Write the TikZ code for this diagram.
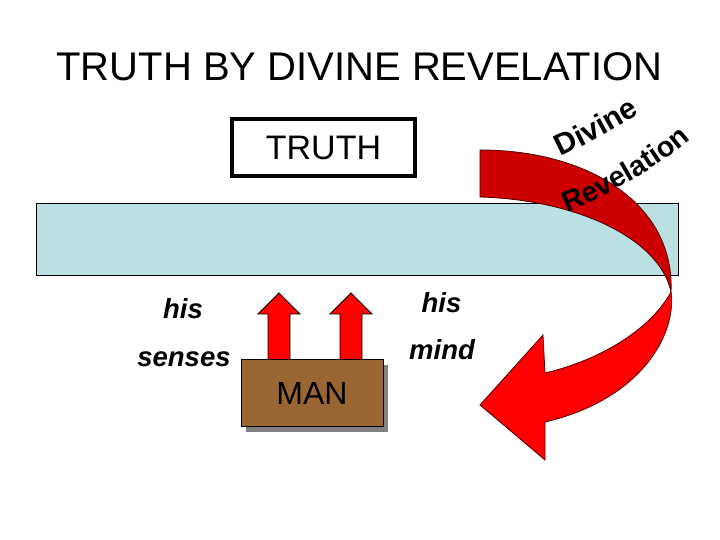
\documentclass[tikz,border=0pt]{standalone}
\usepackage{fontspec}
\setmainfont{Liberation Sans}
\usetikzlibrary{decorations.text,shadows}
\definecolor{bandblue}{RGB}{187,224,227}
\definecolor{manbrown}{RGB}{153,102,51}
\definecolor{ribbondark}{RGB}{204,0,0}
\definecolor{ribbonbright}{RGB}{255,0,0}
\tikzset{
  upperarrow/.style={fill=ribbonbright, draw=black, line width=0.8pt, line join=miter},
  ribbonedge/.style={draw=black!70!red, line width=0.8pt},
  sidelabel/.style={font=\fontsize{27.5}{33}\selectfont\bfseries\itshape, anchor=base, inner sep=0},
  curvetext/.style={decorate, decoration={text along path, text align=center, text={#1}}}
}
\begin{document}
\begin{tikzpicture}[x=1pt,y=1pt]
\useasboundingbox (0,0) rectangle (720,540);
% title
\node[anchor=base, font=\fontsize{40}{48}\selectfont, inner sep=0] (title) at (359.5,459) {TRUTH BY DIVINE REVELATION};
% truth box
\node[draw, line width=4pt, minimum width=183pt, minimum height=57pt, inner sep=0,
      font=\fontsize{34}{40}\selectfont] (truth) at (323.5,392.5) {TRUTH};
% band
\node[draw, fill=bandblue, line width=1pt, minimum width=642pt, minimum height=72pt, inner sep=0] (band) at (357,300) {};
% curved ribbon arrow: back (dark) part
\path[fill=ribbondark, ribbonedge]
  (480,390) .. controls (590,390) and (675,335) .. (671,248)
  .. controls (660,300) and (580,340) .. (480,343) -- cycle;
% front (bright) part
\path[fill=ribbonbright, ribbonedge, line join=miter]
  (671,248) .. controls (677,205) and (640,140) .. (545,118)
  -- (545,80) -- (480,135) -- (543,205) -- (545,167)
  .. controls (600,180) and (650,210) .. (671,248) -- cycle;
% curved texts
\path[curvetext={|\fontsize{30}{36}\selectfont\bfseries|Divine}]
  (558,382) .. controls (585,395) and (615,410) .. (642,428);
\path[curvetext={|\fontsize{28.5}{34}\selectfont\bfseries|Revelation}]
  (566,327) .. controls (605,343) and (660,373) .. (692,402);
% up arrows
\path[upperarrow] (268,180) -- (268,226) -- (258,226) -- (279,247) -- (300,226) -- (290,226) -- (290,180) -- cycle;
\path[upperarrow] (340,180) -- (340,226) -- (330,226) -- (351,247) -- (372,226) -- (362,226) -- (362,180) -- cycle;
% man box
\node[draw, fill=manbrown, line width=1pt, minimum width=142pt, minimum height=67pt, inner sep=0,
      font=\fontsize{32}{38}\selectfont,
      drop shadow={shadow xshift=5pt, shadow yshift=-5pt, fill=black!50, opacity=1}] (man) at (312,146.5) {MAN};
% labels
\node[sidelabel] (hisleft) at (183,221) {his};
\node[sidelabel] (senses) at (184,173) {senses};
\node[sidelabel] (hisright) at (441.5,227) {his};
\node[sidelabel] (mind) at (442,180) {mind};
\end{tikzpicture}
\end{document}
